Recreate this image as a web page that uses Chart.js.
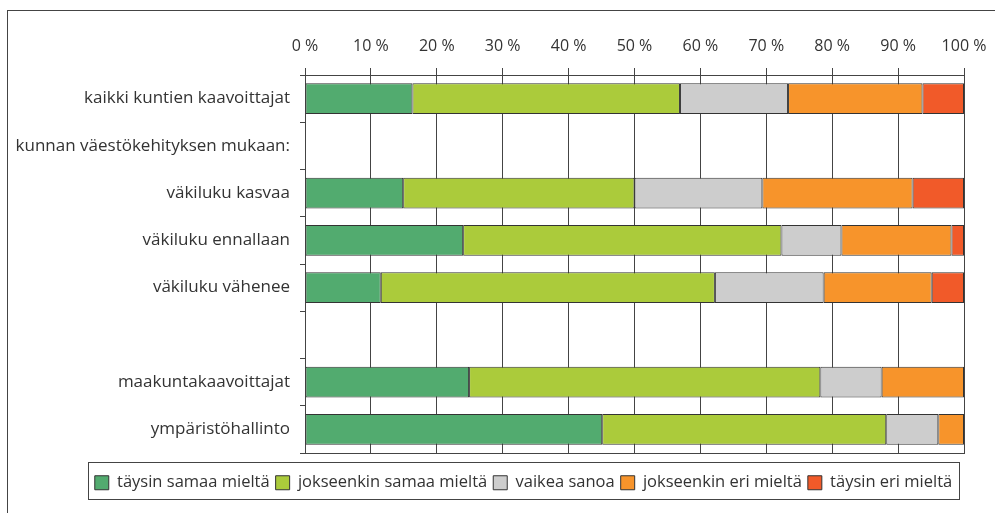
<!DOCTYPE html>
<html lang="fi">
<head>
<meta charset="utf-8">
<script src="https://cdn.jsdelivr.net/npm/chart.js@4.4.1/dist/chart.umd.min.js"></script>
<style>
  html, body { margin: 0; padding: 0; background: #fff; overflow: hidden; }
  #wrap { position: relative; width: 995px; height: 513px; }
  #frame { position: absolute; left: 7px; top: 10px; width: 1100px; height: 600px;
           border-left: 1px solid #444; border-top: 1px solid #444; }
  canvas { position: absolute; left: 0; top: 0; }
</style>
</head>
<body>
<div id="wrap">
  <div id="frame"></div>
  <canvas id="chart" width="995" height="513"></canvas>
</div>
<script>
// --- Datos (luettu kuvasta, %)
const categories = [
  "kaikki kuntien kaavoittajat",
  "kunnan väestökehityksen mukaan:",
  "väkiluku kasvaa",
  "väkiluku ennallaan",
  "väkiluku vähenee",
  "",
  "maakuntakaavoittajat",
  "ympäristöhallinto",
];
const seriesNames = [
  "täysin samaa mieltä",
  "jokseenkin samaa mieltä",
  "vaikea sanoa",
  "jokseenkin eri mieltä",
  "täysin eri mieltä",
];
const taysinSamaa = [16.3, null, 14.9, 24.0, 11.5, null, 24.9, 45.1];
const jokseenkinSamaa = [40.6, null, 35.1, 48.3, 50.7, null, 53.3, 43.1];
const vaikeaSanoa = [16.4, null, 19.4, 9.1, 16.5, null, 9.3, 7.9];
const jokseenkinEri = [20.4, null, 22.8, 16.7, 16.4, null, 12.5, 3.9];
const taysinEri = [6.3, null, 7.8, 1.9, 4.9, null, null, null];
const xTicks = [0, 10, 20, 30, 40, 50, 60, 70, 80, 90, 100];

const colors = ["#52ab6f", "#abcb3b", "#cdcdcd", "#f7942b", "#f15a29"];
const values = [taysinSamaa, jokseenkinSamaa, vaikeaSanoa, jokseenkinEri, taysinEri];
const FAMILY = "'Open Sans', Lato, sans-serif";
const TEXT = "#333";
const LINE = "#444";

// --- Kehys legendan ympärille
const legendFramePlugin = {
  id: "legendFrame",
  afterDraw(chart) {
    const { ctx, legend } = chart;
    const hb = legend?.legendHitBoxes;
    if (!hb || !hb.length) return;
    const l = Math.min(...hb.map((h) => h.left)) - 7;
    const r = Math.max(...hb.map((h) => h.left + h.width)) + 7;
    const t = Math.min(...hb.map((h) => h.top)) - 12.5;
    const b = Math.max(...hb.map((h) => h.top + h.height)) + 8;
    ctx.save();
    ctx.strokeStyle = LINE;
    ctx.lineWidth = 1;
    ctx.strokeRect(Math.round(l) + 0.5, Math.round(t) + 0.5, Math.round(r - l), Math.round(b - t));
    ctx.restore();
  },
};

new Chart(document.getElementById("chart"), {
  type: "bar",
  data: {
    labels: categories,
    datasets: seriesNames.map((name, i) => ({
      label: name,
      data: values[i],
      backgroundColor: colors[i],
      borderColor: "#333",
      borderWidth: 1,
      borderSkipped: false,
      categoryPercentage: 1,
      barPercentage: 0.65,
    })),
  },
  options: {
    indexAxis: "y",
    responsive: false,
    animation: false,
    layout: { padding: { left: 62, right: 10, top: 0, bottom: 12 } },
    plugins: {
      tooltip: { enabled: false },
      legend: {
        position: "bottom",
        labels: {
          boxWidth: 14,
          boxHeight: 14,
          padding: 6,
          color: TEXT,
          font: { family: FAMILY, size: 16.5 },
        },
      },
    },
    scales: {
      x: {
        position: "top",
        stacked: true,
        min: 0,
        max: 100,
        afterBuildTicks: (s) => { s.ticks = xTicks.map((v) => ({ value: v })); },
        afterFit: (s) => {
          s.height = 75;
          s.paddingLeft = 0;
          s.paddingRight = 0;
        },
        ticks: { color: TEXT, font: { family: FAMILY, size: 16 }, padding: 12, maxRotation: 0, callback: (v) => v + " %" },
        grid: { color: LINE, tickLength: 7, lineWidth: 1 },
        border: { display: true, color: LINE },
      },
      // alareunan viiva + väli legendaan
      xBottom: {
        position: "bottom",
        min: 0,
        max: 100,
        afterFit: (s) => {
          s.height = 15.5;
          s.paddingLeft = 0;
          s.paddingRight = 0;
        },
        ticks: { display: false },
        grid: { display: false },
        border: { display: true, color: LINE },
      },
      y: {
        stacked: true,
        afterFit: (s) => {
          s.width = 243;
          s._computeLabelArea = () => undefined; // ei leikata pitkiä nimiä
        },
        ticks: { color: TEXT, font: { family: FAMILY, size: 17 }, padding: 10, autoSkip: false },
        grid: { offset: true, drawOnChartArea: false, tickLength: 5, color: LINE },
        border: { display: true, color: LINE },
      },
      // tyhjä tila oikealla
      yRight: {
        position: "right",
        afterFit: (s) => { s.width = 21; },
        ticks: { display: false },
        grid: { display: false },
        border: { display: false },
      },
    },
  },
  plugins: [legendFramePlugin],
});
</script>
</body>
</html>
